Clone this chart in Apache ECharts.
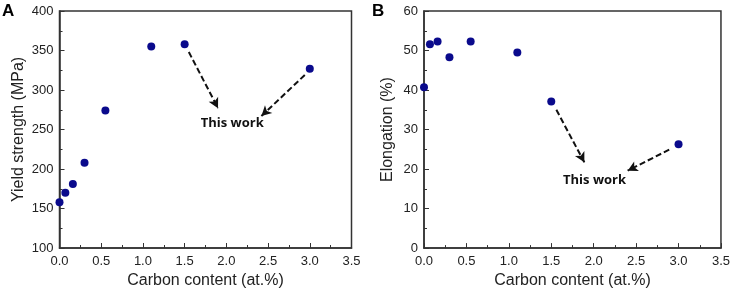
<!DOCTYPE html>
<html>
<head>
<meta charset="utf-8">
<script src="https://cdn.jsdelivr.net/npm/echarts@6/dist/echarts.min.js"></script>
<style>
  html, body { margin: 0; padding: 0; background: #fff; }
  #chart { width: 733px; height: 294px; }
</style>
</head>
<body>
<div id="chart"></div>
<script>
// carbon content (at.%)
var carbon = [0, 0.07, 0.16, 0.3, 0.55, 1.1, 1.5, 3.0];
// panel A: yield strength (MPa)
var yieldStrength = [158, 170, 181, 208, 274, 355, 358, 327];
// panel B: elongation (%)
var elongation = [40.7, 51.6, 52.3, 48.3, 52.3, 49.5, 37.1, 26.3];

// "This work" annotation arrows, [from, to] in data units
var arrowsA = [[[1.55, 348], [1.9, 277]], [[2.94, 319], [2.42, 267]]];
var labelA = [2.07, 258];
var arrowsB = [[[1.56, 35], [1.89, 21.7]], [[2.89, 24.9], [2.4, 19.6]]];
var labelB = [2.01, 17.2];

var fontFam = 'Arial, "Liberation Sans", sans-serif';
var ink = '#222';

function xAxisFor(gi) {
    return {
        gridIndex: gi,
        type: 'value',
        min: 0, max: 3.5, interval: 0.5,
        name: 'Carbon content (at.%)',
        nameLocation: 'middle',
        nameGap: 23,
        nameTextStyle: { fontSize: 16, color: ink, fontFamily: fontFam },
        axisLine: { lineStyle: { color: '#333', width: 1.5 } },
        axisTick: { inside: true, length: 5, lineStyle: { color: '#333' } },
        minorTick: { show: true, splitNumber: 2, length: 3, lineStyle: { color: '#333' } },
        axisLabel: {
            fontSize: 13, color: ink, fontFamily: fontFam, margin: 7,
            formatter: function(v) { return v.toFixed(1); }
        },
        splitLine: { show: false }
    };
}

function yAxisFor(gi, name, min, max, interval, gap) {
    return {
        gridIndex: gi,
        type: 'value',
        min: min, max: max, interval: interval,
        name: name,
        nameLocation: 'middle',
        nameGap: gap,
        nameTextStyle: { fontSize: 16, color: ink, fontFamily: fontFam },
        axisLine: { lineStyle: { color: '#333', width: 1.5 } },
        axisTick: { inside: true, length: 5, lineStyle: { color: '#333' } },
        minorTick: { show: true, splitNumber: 2, length: 3, lineStyle: { color: '#333' } },
        axisLabel: { fontSize: 13, color: ink, fontFamily: fontFam, margin: 6 },
        splitLine: { show: false }
    };
}

function annotation(arrows) {
    return {
        symbol: ['none', 'arrow'],
        symbolSize: [8, 10],
        silent: true,
        label: { show: false },
        lineStyle: { type: [6, 3], color: '#111', width: 2 },
        data: arrows.map(function(a) {
            return [{ coord: a[0] }, { coord: a[1] }];
        })
    };
}

function textMark(label) {
    return {
        symbol: 'circle',
        symbolSize: 0,
        silent: true,
        label: {
            show: true, position: 'inside', formatter: 'This work',
            fontSize: 13, fontWeight: 'bold', color: '#111', fontFamily: '"Open Sans", Arial, sans-serif'
        },
        data: [{ coord: label }]
    };
}

function pairs(xs, ys) {
    return xs.map(function(x, i) { return [x, ys[i]]; });
}

var option = {
    animation: false,
    backgroundColor: '#fff',
    title: [
        { text: 'A', left: 2, top: 3, padding: 0, textStyle: { fontSize: 17, fontWeight: 'bold', color: '#000', fontFamily: fontFam } },
        { text: 'B', left: 372, top: 3, padding: 0, textStyle: { fontSize: 17, fontWeight: 'bold', color: '#000', fontFamily: fontFam } }
    ],
    grid: [
        { left: 59.5, top: 11, width: 292, height: 237, show: true, borderColor: '#333', borderWidth: 1.5, backgroundColor: 'transparent' },
        { left: 424, top: 11, width: 298, height: 239, show: true, borderColor: '#333', borderWidth: 1.5, backgroundColor: 'transparent' }
    ],
    xAxis: [xAxisFor(0), xAxisFor(1)],
    yAxis: [
        yAxisFor(0, 'Yield strength (MPa)', 100, 400, 50, 33),
        yAxisFor(1, 'Elongation (%)', 0, 60, 10, 28)
    ],
    series: [
        {
            type: 'scatter', xAxisIndex: 0, yAxisIndex: 0,
            symbolSize: 8, itemStyle: { color: '#0a0a8c', opacity: 1 },
            data: pairs(carbon, yieldStrength),
            markLine: annotation(arrowsA),
            markPoint: textMark(labelA),
            clip: false
        },
        {
            type: 'scatter', xAxisIndex: 1, yAxisIndex: 1,
            symbolSize: 8, itemStyle: { color: '#0a0a8c', opacity: 1 },
            data: pairs(carbon, elongation),
            markLine: annotation(arrowsB),
            markPoint: textMark(labelB),
            clip: false
        }
    ]
};

var chart = echarts.init(document.getElementById('chart'), null, { renderer: 'canvas' });
chart.setOption(option);
</script>
</body>
</html>
